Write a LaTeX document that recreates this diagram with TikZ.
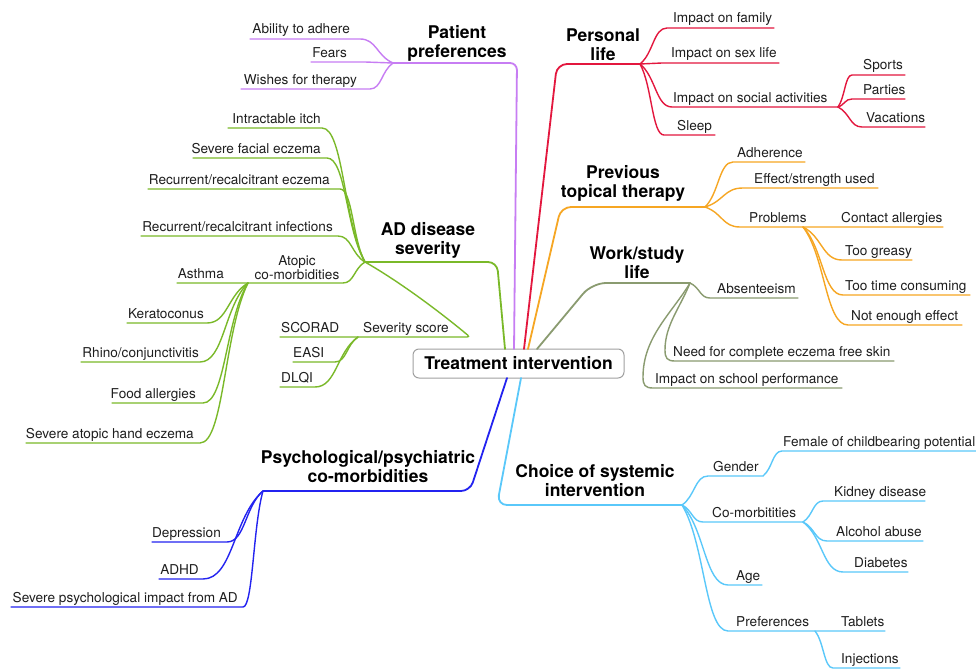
\documentclass[tikz,border=0pt]{standalone}
\usepackage{fontspec}
\setmainfont{TeX Gyre Heros}
\usetikzlibrary{calc}
\definecolor{cPur}{HTML}{C77DF3}
\definecolor{cRed}{HTML}{E3173E}
\definecolor{cOra}{HTML}{F6A623}
\definecolor{cOli}{HTML}{8A9B70}
\definecolor{cGre}{HTML}{7AB929}
\definecolor{cBlu}{HTML}{2323F0}
\definecolor{cSky}{HTML}{5AC8FA}
\definecolor{txt}{HTML}{1E1E1E}
\definecolor{rootline}{HTML}{A0A0A0}
\begin{document}
\begin{tikzpicture}[x=1pt,y=-1pt,
  leaf/.style={font=\fontsize{13.6}{14}\selectfont, text=txt, inner sep=0pt, align=center},
  ttl/.style={font=\fontsize{17.5}{18.5}\selectfont\bfseries, align=center, inner sep=0pt, text=black},
  rootbox/.style={draw=rootline, line width=1pt, rounded corners=6pt, fill=white,
    minimum width=211pt, minimum height=29pt, inner sep=0pt,
    font=\fontsize{17.5}{18.5}\selectfont\bfseries, text=black},
  mainbr/.style={line width=1.8pt, rounded corners=#1, line cap=round},
  mainbr/.default=9pt,
  sub/.style={line width=1.4pt, line cap=round},
  br/.style={to path={let \p1=(\tikztostart), \p2=(\tikztotarget) in
     .. controls ({\x1+0.5*(\x2-\x1)},{\y1+0.3*(\y2-\y1)}) and ({\x1+0.5*(\x2-\x1)},{\y2}) .. (\tikztotarget)}}
]
\fill[white] (0,0) rectangle (976,669);
\useasboundingbox (0,0) rectangle (976,669);

% ---------- root ----------
\node[rootbox] (root) at (518.5,363.5) {Treatment intervention};

% ---------- Patient preferences ----------
\coordinate (rP) at (514,349);
\coordinate (kP) at (517,63);
\coordinate (ppH) at (393,63);
\draw[mainbr=7pt, cPur] (rP) -- (kP) -- (ppH);
\node[ttl, anchor=base] (pp) at (457,57) {Patient\\preferences};
\coordinate (ppA1) at (360,39); \coordinate (ppA2) at (250,39);
\coordinate (ppF1) at (365,62); \coordinate (ppF2) at (311,62);
\coordinate (ppW1) at (370,89); \coordinate (ppW2) at (241,89);
\draw[sub, cPur] (ppH) to[br] (ppA1) -- (ppA2);
\draw[sub, cPur] (ppH) to[br] (ppF1) -- (ppF2);
\draw[sub, cPur] (ppH) to[br] (ppW1) -- (ppW2);
\node[leaf, anchor=base east] (ppA) at (350,34) {Ability to adhere};
\node[leaf, anchor=base east] (ppF) at (347,57) {Fears};
\node[leaf, anchor=base east] (ppW) at (357,84) {Wishes for therapy};

% ---------- Personal life ----------
\coordinate (rR) at (524,349);
\coordinate (kR) at (557,64);
\coordinate (plH) at (640,64);
\draw[mainbr=10pt, cRed] (rR) -- (kR) -- (plH);
\node[ttl, anchor=base] (pl) at (603,60) {Personal\\life};
\coordinate (plF1) at (667,28); \coordinate (plF2) at (774,28);
\coordinate (plS1) at (662,63); \coordinate (plS2) at (779,63);
\coordinate (plC1) at (672,107); \coordinate (socH) at (838,107);
\coordinate (plL1) at (664,135); \coordinate (plL2) at (715,135);
\coordinate (spA) at (852,75); \coordinate (spB) at (905,75);
\coordinate (paA) at (852,99); \coordinate (paB) at (905,99);
\coordinate (vaA) at (862,127); \coordinate (vaB) at (925,127);
\draw[sub, cRed] (plH) to[br] (plF1) -- (plF2);
\draw[sub, cRed] (plH) to[br] (plS1) -- (plS2);
\draw[sub, cRed] (plH) to[br] (plC1) -- (socH);
\draw[sub, cRed] (plH) to[br] (plL1) -- (plL2);
\draw[sub, cRed] (socH) to[br] (spA) -- (spB);
\draw[sub, cRed] (socH) to[br] (paA) -- (paB);
\draw[sub, cRed] (socH) to[br] (vaA) -- (vaB);
\node[leaf, anchor=base west] (plF) at (673,23) {Impact on family};
\node[leaf, anchor=base west] (plS) at (671,58) {Impact on sex life};
\node[leaf, anchor=base west] (plC) at (673,102) {Impact on social activities};
\node[leaf, anchor=base west] (plL) at (677,130) {Sleep};
\node[leaf, anchor=base west] (sp) at (863,70) {Sports};
\node[leaf, anchor=base west] (pa) at (863,94) {Parties};
\node[leaf, anchor=base west] (va) at (866,122) {Vacations};

% ---------- Previous topical therapy ----------
\coordinate (rO) at (528,349);
\coordinate (kO) at (561,207);
\coordinate (ptH) at (705,207);
\draw[mainbr=10pt, cOra] (rO) -- (kO) -- (ptH);
\node[ttl, anchor=base] (pt) at (623,197) {Previous\\topical therapy};
\coordinate (adA) at (733,162); \coordinate (adB) at (805,162);
\coordinate (efA) at (743,188); \coordinate (efB) at (878,188);
\coordinate (prA) at (740,227); \coordinate (prH) at (803,227); \coordinate (prB) at (943,227);
\coordinate (grA) at (842,260); \coordinate (grB) at (912,260);
\coordinate (tcA) at (843,295); \coordinate (tcB) at (970,295);
\coordinate (neA) at (848,325); \coordinate (neB) at (962,325);
\draw[sub, cOra] (ptH) to[br] (adA) -- (adB);
\draw[sub, cOra] (ptH) to[br] (efA) -- (efB);
\draw[sub, cOra] (ptH) to[br] (prA) -- (prH) -- (prB);
\draw[sub, cOra] (prH) to[br] (grA) -- (grB);
\draw[sub, cOra] (prH) to[br] (tcA) -- (tcB);
\draw[sub, cOra] (prH) to[br] (neA) -- (neB);
\node[leaf, anchor=base west] (ad) at (737,157) {Adherence};
\node[leaf, anchor=base west] (ef) at (754,183) {Effect/strength used};
\node[leaf, anchor=base west] (pr) at (749,222) {Problems};
\node[leaf, anchor=base west] (ca) at (841,222) {Contact allergies};
\node[leaf, anchor=base west] (gr) at (845,255) {Too greasy};
\node[leaf, anchor=base west] (tc) at (845,290) {Too time consuming};
\node[leaf, anchor=base west] (ne) at (851,320) {Not enough effect};

% ---------- Work/study life ----------
\coordinate (rW) at (537,349);
\coordinate (kW) at (592,283);
\coordinate (wsH) at (690,283);
\draw[mainbr=14pt, cOli] (rW) -- (kW) -- (wsH);
\node[ttl, anchor=base] (ws) at (637,278) {Work/study\\life};
\coordinate (abA) at (710,298); \coordinate (abB) at (798,298);
\coordinate (nfK) at (665,350); \coordinate (nfA) at (675,361); \coordinate (nfB) at (894,361);
\coordinate (scK) at (643,377); \coordinate (scA) at (653,388); \coordinate (scB) at (842,388);
\draw[sub, cOli] (wsH) to[br] (abA) -- (abB);
\draw[sub, cOli] (wsH) .. controls +(-10,25) and +(0,-25) .. (nfK)
      .. controls +(0,8) and +(-8,0) .. (nfA) -- (nfB);
\draw[sub, cOli] (wsH) .. controls +(-18,30) and +(0,-40) .. (scK)
      .. controls +(0,8) and +(-8,0) .. (scA) -- (scB);
\node[leaf, anchor=base west] (ab) at (717,293) {Absenteeism};
\node[leaf, anchor=base west] (nf) at (673,356) {Need for complete eczema free skin};
\node[leaf, anchor=base west] (sc) at (655,383) {Impact on school performance};

% ---------- AD disease severity ----------
\coordinate (rA) at (505,349);
\coordinate (kA) at (497,262);
\coordinate (adH) at (365,262);
\draw[mainbr=9pt, cGre] (rA) -- (kA) -- (adH);
\node[ttl, anchor=base] (ads) at (428,254) {AD disease\\severity};
\coordinate (itA) at (322,128); \coordinate (itB) at (228,128);
\coordinate (sfA) at (327,158); \coordinate (sfB) at (193,158);
\coordinate (reA) at (340,189); \coordinate (reB) at (148,189);
\coordinate (riA) at (338,236); \coordinate (riB) at (141,236);
\coordinate (atA) at (343,283); \coordinate (atH) at (248,283); \coordinate (atB) at (177,283);
\coordinate (keA) at (207,323); \coordinate (keB) at (127,323);
\coordinate (rhA) at (200,362); \coordinate (rhB) at (81,362);
\coordinate (foA) at (203,403); \coordinate (foB) at (112,403);
\coordinate (haA) at (200,443); \coordinate (haB) at (26,443);
\coordinate (svE) at (470,337); \coordinate (svH) at (358,337); \coordinate (svB) at (280,337);
\coordinate (eaA) at (335,362); \coordinate (eaB) at (293,362);
\coordinate (dlA) at (315,387); \coordinate (dlB) at (280,387);
\draw[sub, cGre] (adH) to[br] (itA) -- (itB);
\draw[sub, cGre] (adH) to[br] (sfA) -- (sfB);
\draw[sub, cGre] (adH) to[br] (reA) -- (reB);
\draw[sub, cGre] (adH) to[br] (riA) -- (riB);
\draw[sub, cGre] (adH) to[br] (atA) -- (atH) -- (atB);
\draw[sub, cGre] (atH) to[br] (keA) -- (keB);
\draw[sub, cGre] (atH) to[br] (rhA) -- (rhB);
\draw[sub, cGre] (atH) to[br] (foA) -- (foB);
\draw[sub, cGre] (atH) to[br] (haA) -- (haB);
\draw[sub, cGre, rounded corners=3pt] (adH) .. controls +(35,20) and +(-30,-25) .. (svE) -- (svH) -- (svB);
\draw[sub, cGre] (svH) to[br] (eaA) -- (eaB);
\draw[sub, cGre] (svH) to[br] (dlA) -- (dlB);
\node[leaf, anchor=base east] (it) at (321,123) {Intractable itch};
\node[leaf, anchor=base east] (sf) at (321,153) {Severe facial eczema};
\node[leaf, anchor=base east] (re) at (330,184) {Recurrent/recalcitrant eczema};
\node[leaf, anchor=base east] (ri) at (333,231) {Recurrent/recalcitrant infections};
\node[leaf, anchor=base] (at) at (297,279) {Atopic\\co-morbidities};
\node[leaf, anchor=base east] (as) at (224,278) {Asthma};
\node[leaf, anchor=base east] (ke) at (204,318) {Keratoconus};
\node[leaf, anchor=base east] (rh) at (199,357) {Rhino/conjunctivitis};
\node[leaf, anchor=base east] (fo) at (196,398) {Food allergies};
\node[leaf, anchor=base east] (ha) at (194,438) {Severe atopic hand eczema};
\node[leaf, anchor=base west] (sv) at (363,332) {Severity score};
\node[leaf, anchor=base west] (scor) at (281,332) {SCORAD};
\node[leaf, anchor=base west] (ea) at (293,357) {EASI};
\node[leaf, anchor=base west] (dl) at (281,382) {DLQI};

% ---------- Psychological/psychiatric co-morbidities ----------
\coordinate (rB) at (507,378);
\coordinate (kB) at (470,491);
\coordinate (psH) at (263,491);
\draw[mainbr=9pt, cBlu] (rB) -- (kB) -- (psH);
\node[ttl, anchor=base] (ps) at (368,482) {Psychological/psychiatric\\co-morbidities};
\coordinate (deA) at (227,542); \coordinate (deB) at (152,542);
\coordinate (adhA) at (203,579); \coordinate (adhB) at (159,579);
\coordinate (spiA) at (243,607); \coordinate (spiB) at (11,607);
\draw[sub, cBlu] (psH) to[br] (deA) -- (deB);
\draw[sub, cBlu] (psH) to[br] (adhA) -- (adhB);
\draw[sub, cBlu] (psH) to[br] (spiA) -- (spiB);
\node[leaf, anchor=base east] (de) at (221,537) {Depression};
\node[leaf, anchor=base east] (adhd) at (199,574) {ADHD};
\node[leaf, anchor=base east] (spi) at (238,602) {Severe psychological impact from AD};

% ---------- Choice of systemic intervention ----------
\coordinate (rC) at (521,378);
\coordinate (kC) at (497,505);
\coordinate (csH) at (682,505);
\draw[mainbr=10pt, cSky] (rC) -- (kC) -- (csH);
\node[ttl, anchor=base] (cs) at (595,496) {Choice of systemic\\intervention};
\coordinate (geA) at (708,476); \coordinate (geH) at (763,476);
\coordinate (feA) at (782,451); \coordinate (feB) at (976,451);
\coordinate (cmA) at (703,522); \coordinate (cmH) at (803,522);
\coordinate (kiA) at (823,501); \coordinate (kiB) at (925,501);
\coordinate (alA) at (827,541); \coordinate (alB) at (923,541);
\coordinate (diA) at (843,572); \coordinate (diB) at (908,572);
\coordinate (agA) at (728,585); \coordinate (agB) at (762,585);
\coordinate (pfA) at (728,631); \coordinate (pfH) at (815,631); \coordinate (pfB) at (885,631);
\coordinate (inA) at (833,668); \coordinate (inB) at (900,668);
\draw[sub, cSky] (csH) to[br] (geA) -- (geH) to[br] (feA) -- (feB);
\draw[sub, cSky] (csH) to[br] (cmA) -- (cmH);
\draw[sub, cSky] (cmH) to[br] (kiA) -- (kiB);
\draw[sub, cSky] (cmH) to[br] (alA) -- (alB);
\draw[sub, cSky] (cmH) to[br] (diA) -- (diB);
\draw[sub, cSky] (csH) to[br] (agA) -- (agB);
\draw[sub, cSky] (csH) to[br] (pfA) -- (pfH) -- (pfB);
\draw[sub, cSky] (pfH) to[br] (inA) -- (inB);
\node[leaf, anchor=base west] (ge) at (713,471) {Gender};
\node[leaf, anchor=base west] (fe) at (783,446) {Female of childbearing potential};
\node[leaf, anchor=base west] (cm) at (712,517) {Co-morbitities};
\node[leaf, anchor=base west] (ki) at (834,496) {Kidney disease};
\node[leaf, anchor=base west] (al) at (836,536) {Alcohol abuse};
\node[leaf, anchor=base west] (di) at (854,567) {Diabetes};
\node[leaf, anchor=base west] (ag) at (736,580) {Age};
\node[leaf, anchor=base west] (pf) at (736,626) {Preferences};
\node[leaf, anchor=base west] (ta) at (841,626) {Tablets};
\node[leaf, anchor=base west] (in) at (841,663) {Injections};
\end{tikzpicture}
\end{document}
